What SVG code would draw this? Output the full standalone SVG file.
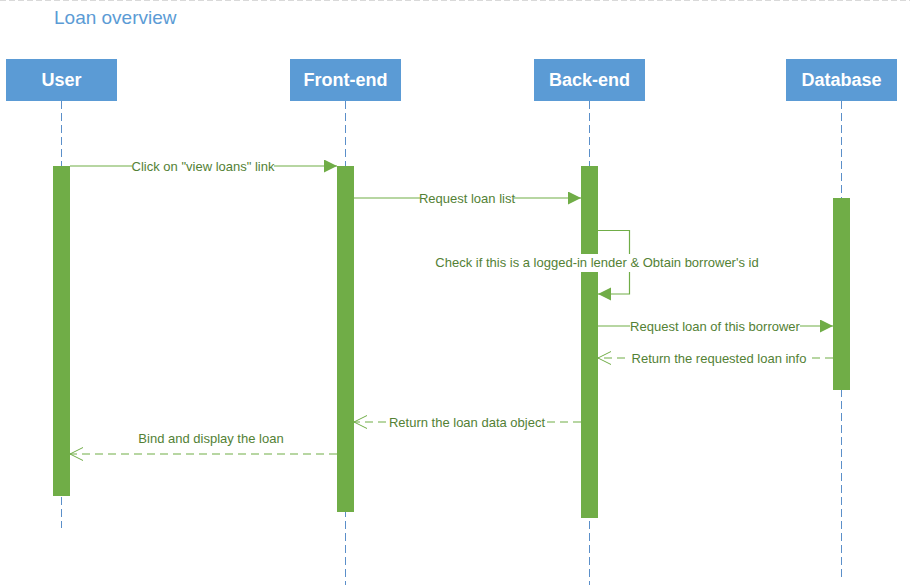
<svg xmlns="http://www.w3.org/2000/svg" width="910" height="585" viewBox="0 0 910 585">
<style>
.hdr{fill:#5B9BD5}
.hdrt{font-family:"Liberation Sans",Arial,sans-serif;font-size:18px;font-weight:bold;fill:#fff;text-anchor:middle}
.life{stroke:#5B8FC9;stroke-width:1;stroke-dasharray:8,4;fill:none}
.act{fill:#70AD47}
.msg{stroke:#70AD47;stroke-width:1.2;fill:none}
.ret{stroke:#70AD47;stroke-width:1.2;fill:none;stroke-dasharray:8,5}
.lbl{font-family:"Liberation Sans",Arial,sans-serif;font-size:13px;fill:#538135;text-anchor:middle}
.bg{fill:#fff}
</style>
<defs>
<marker id="fill" markerWidth="14" markerHeight="14" refX="13" refY="6.5" orient="auto" markerUnits="userSpaceOnUse">
<path d="M0,0 L13,6.5 L0,13 Z" fill="#70AD47"/>
</marker>
<marker id="open" markerWidth="14" markerHeight="16" refX="13" refY="7" orient="auto" markerUnits="userSpaceOnUse">
<path d="M0,0.5 L13,7 L0,13.5" fill="none" stroke="#70AD47" stroke-width="1"/>
</marker>
</defs>
<rect width="910" height="585" fill="#fff"/>
<line x1="0" y1="0.5" x2="910" y2="0.5" stroke="#D9D9D9" stroke-width="1" stroke-dasharray="6,3"/>
<text x="54" y="24" font-family="'Liberation Sans',Arial,sans-serif" font-size="19" fill="#5B9BD5">Loan overview</text>

<g id="user">
<rect class="hdr" x="6" y="59" width="111" height="42"/>
<text class="hdrt" x="61.5" y="86">User</text>
<line class="life" x1="61.5" y1="101" x2="61.5" y2="528"/>
<rect class="act" x="53" y="166" width="17" height="330"/>
</g>
<g id="frontend">
<rect class="hdr" x="290" y="59" width="111" height="42"/>
<text class="hdrt" x="345.5" y="86">Front-end</text>
<line class="life" x1="345.5" y1="101" x2="345.5" y2="585"/>
<rect class="act" x="337" y="166" width="17" height="346"/>
</g>
<g id="backend">
<rect class="hdr" x="534" y="59" width="111" height="42"/>
<text class="hdrt" x="589.5" y="86">Back-end</text>
<line class="life" x1="589.5" y1="101" x2="589.5" y2="585"/>
<rect class="act" x="581" y="166" width="17" height="352"/>
</g>
<g id="database">
<rect class="hdr" x="786" y="59" width="111" height="42"/>
<text class="hdrt" x="841.5" y="86">Database</text>
<line class="life" x1="841.5" y1="101" x2="841.5" y2="578"/>
<rect class="act" x="833" y="198" width="17" height="192"/>
</g>

<g id="connectors">
<g id="m1">
<line class="msg" x1="70" y1="166" x2="337" y2="166" marker-end="url(#fill)"/>
<rect class="bg" x="132" y="159" width="142" height="14"/>
<text class="lbl" x="203" y="170.5">Click on "view loans" link</text>
</g>
<g id="m2">
<line class="msg" x1="354" y1="198" x2="581" y2="198" marker-end="url(#fill)"/>
<rect class="bg" x="420" y="191" width="94" height="14"/>
<text class="lbl" x="467" y="202.5">Request loan list</text>
</g>
<g id="m3">
<polyline class="msg" points="598,230.5 629.5,230.5 629.5,294 598,294" marker-end="url(#fill)"/>
<rect class="bg" x="433" y="254" width="328" height="18"/>
<text class="lbl" x="597" y="266.5">Check if this is a logged-in lender &amp; Obtain borrower's id</text>
</g>
<g id="m4">
<line class="msg" x1="598" y1="326" x2="833" y2="326" marker-end="url(#fill)"/>
<rect class="bg" x="630" y="319" width="170" height="14"/>
<text class="lbl" x="715" y="330.5">Request loan of this borrower</text>
</g>
<g id="m5">
<line class="ret" x1="833" y1="358" x2="598" y2="358" marker-end="url(#open)"/>
<rect class="bg" x="630" y="351" width="178" height="14"/>
<text class="lbl" x="719" y="362.5">Return the requested loan info</text>
</g>
<g id="m6">
<line class="ret" x1="581" y1="422" x2="354" y2="422" marker-end="url(#open)"/>
<rect class="bg" x="389" y="415" width="157" height="14"/>
<text class="lbl" x="467" y="426.5">Return the loan data object</text>
</g>
<g id="m7">
<line class="ret" x1="337" y1="454" x2="70" y2="454" marker-end="url(#open)"/>
<text class="lbl" x="211" y="442.5">Bind and display the loan</text>
</g>
</g>
</svg>
